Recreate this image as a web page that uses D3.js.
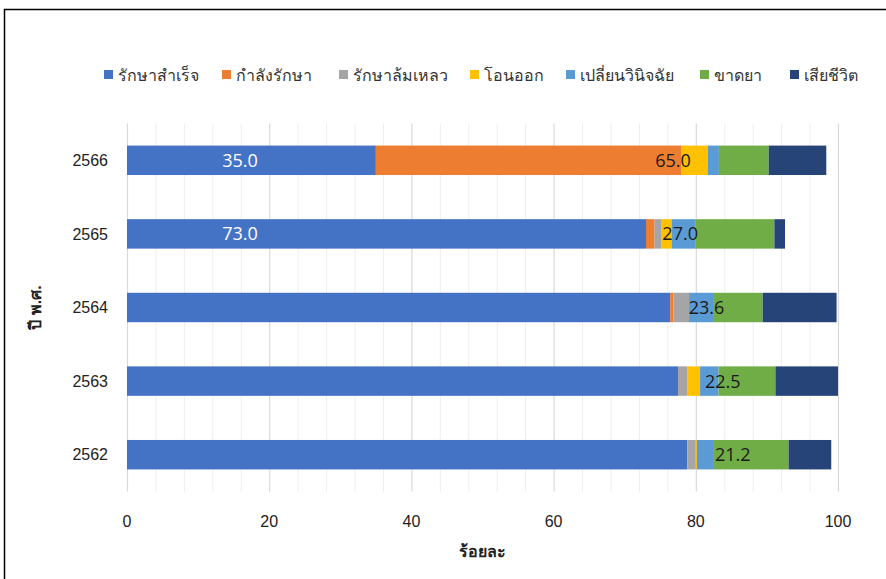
<!DOCTYPE html>
<html>
<head>
<meta charset="utf-8">
<script src="https://cdn.jsdelivr.net/npm/d3@7"></script>
<style>
  html, body { margin: 0; padding: 0; background: #fff; }
  svg { display: block; }
  text { font-family: "Liberation Sans", "DejaVu Sans", sans-serif; }
</style>
</head>
<body>
<svg id="chart" width="886" height="579"></svg>
<script>
// ---- data ----
const years = ["2566", "2565", "2564", "2563", "2562"];
const seriesNames = ["รักษาสำเร็จ", "กำลังรักษา", "รักษาล้มเหลว", "โอนออก", "เปลี่ยนวินิจฉัย", "ขาดยา", "เสียชีวิต"];
const seriesColors = ["#4472C4", "#ED7D31", "#A5A5A5", "#FFC000", "#5B9BD5", "#70AD47", "#264478"];
const success   = [35.0, 73.0, 76.4, 77.5, 78.8];
const ongoing   = [43.0, 1.2, 0.45, 0, 0];
const failed    = [0, 1.0, 2.2, 1.35, 1.2];
const transfer  = [3.7, 1.4, 0, 1.75, 0.15];
const changed   = [1.55, 3.4, 3.5, 2.6, 2.4];
const defaulted = [7.0, 11.05, 6.85, 8.0, 10.5];
const died      = [8.1, 1.5, 10.4, 8.8, 6.0];
const xTicks = [0, 20, 40, 60, 80, 100];
const successLabels = ["35.0", "73.0", null, null, null];
const successLabelAt = [15.9, 15.9, null, null, null];
const otherLabels = ["65.0", "27.0", "23.6", "22.5", "21.2"];
const otherLabelAt = [76.8, 77.8, 81.5, 83.8, 85.2];
const xTitle = "ร้อยละ";
const yTitle = "ปี พ.ศ.";

const seriesValues = [success, ongoing, failed, transfer, changed, defaulted, died];

// ---- layout ----
const svg = d3.select("#chart");
const plot = { left: 127, right: 838, top: 123.5, bottom: 491.5 };

// frame (cropped on right/bottom)
svg.append("rect")
  .attr("x", 4.5).attr("y", 9.5).attr("width", 1000).attr("height", 1000)
  .attr("fill", "none").attr("stroke", "#000").attr("stroke-width", 1.5);

const x = d3.scaleLinear().domain([0, 100]).range([plot.left, plot.right]);
const y = d3.scaleBand().domain(years).range([plot.top, plot.bottom])
  .paddingInner(0.6).paddingOuter(0.3);

// gridlines
const minor = d3.range(0, 101, 4);
svg.append("g").selectAll("line").data(minor).join("line")
  .attr("x1", d => x(d) + 0.5).attr("x2", d => x(d) + 0.5)
  .attr("y1", plot.top).attr("y2", plot.bottom)
  .attr("stroke", d => (d % 20 === 0) ? "#d9d9d9" : "#eeeeee")
  .attr("stroke-width", d => (d % 20 === 0) ? 1.2 : 1);

// stacked bars
const rows = years.map((yr, i) => {
  const obj = { year: yr };
  seriesNames.forEach((s, k) => obj[s] = seriesValues[k][i]);
  return obj;
});
const stacked = d3.stack().keys(seriesNames)(rows);

svg.append("g").selectAll("g").data(stacked).join("g")
  .attr("fill", (d, k) => seriesColors[k])
  .selectAll("rect").data(d => d).join("rect")
  .attr("x", d => x(d[0]))
  .attr("width", d => Math.max(0, x(d[1]) - x(d[0])))
  .attr("y", d => y(d.data.year))
  .attr("height", y.bandwidth());

// data labels
const lblFont = "Open Sans, Liberation Sans, sans-serif";
svg.append("g").selectAll("text")
  .data(years.map((yr, i) => ({ yr, t: successLabels[i], at: successLabelAt[i] })).filter(d => d.t))
  .join("text")
  .attr("x", d => x(d.at))
  .attr("y", d => y(d.yr) + y.bandwidth() / 2)
  .attr("dy", "0.36em")
  .attr("text-anchor", "middle")
  .attr("fill", "#fff")
  .style("font-family", lblFont)
  .style("font-size", "18px")
  .text(d => d.t);

svg.append("g").selectAll("text")
  .data(years.map((yr, i) => ({ yr, t: otherLabels[i], at: otherLabelAt[i] })))
  .join("text")
  .attr("x", d => x(d.at))
  .attr("y", d => y(d.yr) + y.bandwidth() / 2)
  .attr("dy", "0.36em")
  .attr("text-anchor", "middle")
  .attr("fill", "#1a1a1a")
  .style("font-family", lblFont)
  .style("font-size", "18px")
  .text(d => d.t);

// axes (labels only)
svg.append("g").selectAll("text").data(xTicks).join("text")
  .attr("x", d => x(d)).attr("y", 527)
  .attr("text-anchor", "middle")
  .attr("fill", "#222")
  .style("font-size", "16px")
  .text(d => d);

svg.append("g").selectAll("text").data(years).join("text")
  .attr("x", 108).attr("y", d => y(d) + y.bandwidth() / 2)
  .attr("dy", "0.36em")
  .attr("text-anchor", "end")
  .attr("fill", "#222")
  .style("font-size", "16px")
  .text(d => d);

svg.append("text")
  .attr("x", (plot.left + plot.right) / 2).attr("y", 557)
  .attr("text-anchor", "middle").attr("fill", "#222")
  .style("font-size", "16px").style("font-weight", "bold")
  .text(xTitle);

svg.append("text")
  .attr("transform", `translate(41, ${(plot.top + plot.bottom) / 2}) rotate(-90)`)
  .attr("text-anchor", "middle").attr("fill", "#222")
  .style("font-size", "16px").style("font-weight", "bold")
  .text(yTitle);

// legend
const legendX = [104, 222, 339, 470, 566, 700, 790];
const lg = svg.append("g").selectAll("g").data(seriesNames).join("g")
  .attr("transform", (d, i) => `translate(${legendX[i]}, 75)`);
lg.append("rect").attr("x", 0).attr("y", -5).attr("width", 9).attr("height", 9)
  .attr("fill", (d, i) => seriesColors[i]);
lg.append("text").attr("x", 14).attr("y", 0).attr("dy", "0.36em")
  .attr("fill", "#333").style("font-size", "16px")
  .text(d => d);
</script>
</body>
</html>
